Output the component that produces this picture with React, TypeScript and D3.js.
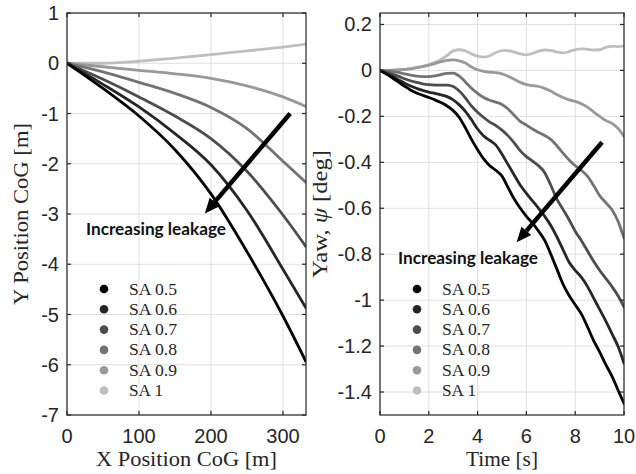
import React from "react";
import * as d3 from "d3";

// ---------- data ----------
const SERIES_NAMES = ["SA 0.5", "SA 0.6", "SA 0.7", "SA 0.8", "SA 0.9", "SA 1"];
const SERIES_COLORS = ["#000000", "#262626", "#4d4d4d", "#737373", "#999999", "#bfbfbf"];

// Left panel: Y position vs X position of CoG
const POS_X = [0, 50, 100, 150, 200, 250, 300, 332];
const POS_Y_SA05 = [0, -0.5, -1.05, -1.72, -2.6, -3.75, -5.03, -5.94];
const POS_Y_SA06 = [0, -0.42, -0.87, -1.4, -2.02, -2.93, -4.1, -4.87];
const POS_Y_SA07 = [0, -0.32, -0.67, -1.05, -1.5, -2.15, -3.02, -3.65];
const POS_Y_SA08 = [0, -0.17, -0.38, -0.6, -0.88, -1.3, -1.95, -2.37];
const POS_Y_SA09 = [0, -0.07, -0.14, -0.21, -0.3, -0.45, -0.67, -0.86];
const POS_Y_SA10 = [0, 0.0, 0.04, 0.1, 0.17, 0.245, 0.32, 0.38];

// Right panel: yaw angle vs time
const TIME = [
  0, 0.25, 0.5, 0.75, 1, 1.25, 1.5, 1.75, 2, 2.25, 2.5, 2.75, 3, 3.25, 3.5, 3.75, 4, 4.25, 4.5, 4.75,
  5, 5.25, 5.5, 5.75, 6, 6.25, 6.5, 6.75, 7, 7.25, 7.5, 7.75, 8, 8.25, 8.5, 8.75, 9, 9.25, 9.5, 9.75, 10,
];
const YAW_SA05 = [
  0, -0.015, -0.032, -0.05, -0.068, -0.085, -0.098, -0.108, -0.118, -0.128, -0.14, -0.155, -0.175, -0.205,
  -0.25, -0.3, -0.345, -0.385, -0.415, -0.435, -0.46, -0.51, -0.56, -0.6, -0.635, -0.665, -0.7, -0.74, -0.8,
  -0.865, -0.93, -0.98, -1.02, -1.06, -1.115, -1.175, -1.225, -1.28, -1.33, -1.39, -1.45,
];
const YAW_SA06 = [
  0, -0.012, -0.025, -0.04, -0.055, -0.068, -0.078, -0.087, -0.094, -0.1, -0.106, -0.114, -0.128, -0.15,
  -0.178, -0.215, -0.255, -0.285, -0.305, -0.325, -0.365, -0.41, -0.455, -0.5, -0.535, -0.568, -0.6, -0.635,
  -0.675, -0.725, -0.78, -0.835, -0.87, -0.9, -0.94, -0.99, -1.04, -1.09, -1.145, -1.2, -1.275,
];
const YAW_SA07 = [
  0, -0.008, -0.016, -0.025, -0.036, -0.045, -0.052, -0.058, -0.062, -0.064, -0.064, -0.064, -0.07, -0.09,
  -0.12, -0.155, -0.182, -0.205, -0.225, -0.24, -0.26, -0.285, -0.315, -0.35, -0.375, -0.395, -0.415, -0.445,
  -0.5, -0.56, -0.605, -0.65, -0.7, -0.74, -0.785, -0.83, -0.87, -0.905, -0.94, -0.98, -1.03,
];
const YAW_SA08 = [
  0, -0.002, -0.005, -0.009, -0.015, -0.02, -0.025, -0.027, -0.027, -0.024, -0.018, -0.013, -0.012, -0.025,
  -0.05, -0.078, -0.1, -0.118, -0.13, -0.138, -0.148, -0.168, -0.195, -0.222, -0.238, -0.255, -0.27, -0.283,
  -0.3, -0.328, -0.36, -0.39, -0.415, -0.435, -0.46, -0.5, -0.545, -0.575, -0.605, -0.655, -0.73,
];
const YAW_SA09 = [
  0, 0, 0.001, 0.002, 0.004, 0.007, 0.012, 0.017, 0.023, 0.03, 0.038, 0.044, 0.046, 0.042, 0.032, 0.015,
  0.003, -0.004, -0.008, -0.01, -0.015, -0.025, -0.038, -0.052, -0.062, -0.066, -0.07, -0.078, -0.09, -0.105,
  -0.118, -0.128, -0.135, -0.145, -0.16, -0.18, -0.2, -0.218, -0.23, -0.252, -0.287,
];
const YAW_SA10 = [
  0, 0, 0.001, 0.003, 0.005, 0.008, 0.013, 0.018, 0.025, 0.035, 0.048, 0.065, 0.085, 0.09, 0.085, 0.072,
  0.062, 0.058, 0.064, 0.078, 0.086, 0.086, 0.08, 0.072, 0.068, 0.074, 0.084, 0.089, 0.087, 0.08, 0.076,
  0.082, 0.091, 0.094, 0.092, 0.089, 0.09, 0.1, 0.105, 0.104, 0.107,
];

const LEFT_X_TICKS = [0, 100, 200, 300];
const LEFT_X_TICK_LABELS = ["0", "100", "200", "300"];
const LEFT_Y_TICKS = [1, 0, -1, -2, -3, -4, -5, -6, -7];
const LEFT_Y_TICK_LABELS = ["1", "0", "-1", "-2", "-3", "-4", "-5", "-6", "-7"];
const RIGHT_X_TICKS = [0, 2, 4, 6, 8, 10];
const RIGHT_X_TICK_LABELS = ["0", "2", "4", "6", "8", "10"];
const RIGHT_Y_TICKS = [0.2, 0, -0.2, -0.4, -0.6, -0.8, -1, -1.2, -1.4];
const RIGHT_Y_TICK_LABELS = ["0.2", "0", "-0.2", "-0.4", "-0.6", "-0.8", "-1", "-1.2", "-1.4"];

const ANNOTATION = "Increasing leakage";

// ---------- styling ----------
const W = 636;
const H = 474;
const TICK_FONT = "'Liberation Sans', Arial, Helvetica, sans-serif";
const LABEL_FONT = "'Liberation Serif', 'Times New Roman', serif";
const ANNOT_FONT = "Lato, 'Open Sans', 'Noto Sans', sans-serif";
const AXIS_COLOR = "#262626";
const GRID_COLOR = "#e0e0e0";

type PanelProps = {
  id: string;
  left: number;
  right: number;
  top: number;
  bottom: number;
  xDomain: [number, number];
  yDomain: [number, number];
  xs: number[];
  ys: number[][];
  xTicks: number[];
  xTickLabels: string[];
  yTicks: number[];
  yTickLabels: string[];
  xLabel: React.ReactNode;
  xLabelLen: number;
  yLabel: React.ReactNode;
  yLabelLen: number;
  yLabelX: number;
  arrowFrom: [number, number];
  arrowTo: [number, number];
  annotAt: [number, number];
  annotLen: number;
};

function Panel(p: PanelProps) {
  const x = d3.scaleLinear().domain(p.xDomain).range([p.left, p.right]);
  const y = d3.scaleLinear().domain(p.yDomain).range([p.bottom, p.top]);
  const line = d3
    .line<[number, number]>()
    .x((d) => x(d[0]))
    .y((d) => y(d[1]))
    .curve(d3.curveMonotoneX);
  const tick = 4;

  // arrow geometry
  const ax0 = x(p.arrowFrom[0]);
  const ay0 = y(p.arrowFrom[1]);
  const ax1 = x(p.arrowTo[0]);
  const ay1 = y(p.arrowTo[1]);
  const ang = Math.atan2(ay1 - ay0, ax1 - ax0);
  const headLen = 15;
  const headHalf = 6.5;
  const bx = ax1 - headLen * Math.cos(ang);
  const by = ay1 - headLen * Math.sin(ang);
  const px = -Math.sin(ang);
  const py = Math.cos(ang);
  const head = `${ax1},${ay1} ${bx + headHalf * px},${by + headHalf * py} ${bx - headHalf * px},${by - headHalf * py}`;

  const legX = p.left + 37;
  const legY0 = p.top + 276;
  const legDy = 20.3;
  const midX = (p.left + p.right) / 2;
  const midY = (p.top + p.bottom) / 2;

  // draw lightest first so darkest on top
  const order = [5, 4, 3, 2, 1, 0];

  return (
    <g>
      <defs>
        <clipPath id={`clip-${p.id}`}>
          <rect x={p.left} y={p.top} width={p.right - p.left} height={p.bottom - p.top} />
        </clipPath>
      </defs>
      <rect x={p.left} y={p.top} width={p.right - p.left} height={p.bottom - p.top} fill="#fff" />
      {/* grid */}
      {p.xTicks.map((t) => (
        <line key={`gx${t}`} x1={x(t)} x2={x(t)} y1={p.top} y2={p.bottom} stroke={GRID_COLOR} strokeWidth={1} />
      ))}
      {p.yTicks.map((t) => (
        <line key={`gy${t}`} x1={p.left} x2={p.right} y1={y(t)} y2={y(t)} stroke={GRID_COLOR} strokeWidth={1} />
      ))}
      {/* series */}
      <g clipPath={`url(#clip-${p.id})`}>
        {order.map((i) => (
          <path
            key={`s${i}`}
            d={line(p.xs.map((xv, k) => [xv, p.ys[i][k]] as [number, number])) || ""}
            fill="none"
            stroke={SERIES_COLORS[i]}
            strokeWidth={2.8}
            strokeLinejoin="round"
            strokeLinecap="round"
          />
        ))}
      </g>
      {/* box */}
      <rect
        x={p.left}
        y={p.top}
        width={p.right - p.left}
        height={p.bottom - p.top}
        fill="none"
        stroke={AXIS_COLOR}
        strokeWidth={1.2}
      />
      {/* ticks */}
      {p.xTicks.map((t) => (
        <g key={`tx${t}`}>
          <line x1={x(t)} x2={x(t)} y1={p.bottom} y2={p.bottom - tick} stroke={AXIS_COLOR} strokeWidth={1.2} />
          <line x1={x(t)} x2={x(t)} y1={p.top} y2={p.top + tick} stroke={AXIS_COLOR} strokeWidth={1.2} />
        </g>
      ))}
      {p.yTicks.map((t) => (
        <g key={`ty${t}`}>
          <line x1={p.left} x2={p.left + tick} y1={y(t)} y2={y(t)} stroke={AXIS_COLOR} strokeWidth={1.2} />
          <line x1={p.right} x2={p.right - tick} y1={y(t)} y2={y(t)} stroke={AXIS_COLOR} strokeWidth={1.2} />
        </g>
      ))}
      {/* tick labels */}
      {p.xTicks.map((t, i) => (
        <text
          key={`lx${t}`}
          x={x(t)}
          y={p.bottom + 28}
          textAnchor="middle"
          fontFamily={TICK_FONT}
          fontSize={20}
          fill={AXIS_COLOR}
        >
          {p.xTickLabels[i]}
        </text>
      ))}
      {p.yTicks.map((t, i) => (
        <text
          key={`ly${t}`}
          x={p.left - 8}
          y={y(t) + 7}
          textAnchor="end"
          fontFamily={TICK_FONT}
          fontSize={20}
          fill={AXIS_COLOR}
        >
          {p.yTickLabels[i]}
        </text>
      ))}
      {/* axis labels */}
      <text
        x={midX}
        y={466}
        textAnchor="middle"
        fontFamily={LABEL_FONT}
        fontSize={20}
        fill={AXIS_COLOR}
        textLength={p.xLabelLen}
        lengthAdjust="spacingAndGlyphs"
      >
        {p.xLabel}
      </text>
      <text
        transform={`translate(${p.yLabelX},${midY}) rotate(-90)`}
        textAnchor="middle"
        fontFamily={LABEL_FONT}
        fontSize={20}
        fill={AXIS_COLOR}
        textLength={p.yLabelLen}
        lengthAdjust="spacingAndGlyphs"
      >
        {p.yLabel}
      </text>
      {/* legend */}
      {SERIES_NAMES.map((name, i) => (
        <g key={`lg${i}`}>
          <circle cx={legX} cy={legY0 + i * legDy} r={4.3} fill={SERIES_COLORS[i]} />
          <text
            x={legX + 25}
            y={legY0 + i * legDy + 5.5}
            fontFamily={LABEL_FONT}
            fontSize={17}
            fill={AXIS_COLOR}
            textLength={name.length === 6 ? 48 : 34}
            lengthAdjust="spacingAndGlyphs"
          >
            {name}
          </text>
        </g>
      ))}
      {/* annotation arrow */}
      <line x1={ax0} y1={ay0} x2={bx} y2={by} stroke="#000" strokeWidth={4.5} />
      <polygon points={head} fill="#000" />
      <text
        x={x(p.annotAt[0])}
        y={y(p.annotAt[1])}
        fontFamily={ANNOT_FONT}
        fontWeight="bold"
        fontSize={17}
        fill="#111"
        textLength={p.annotLen}
        lengthAdjust="spacingAndGlyphs"
      >
        {ANNOTATION}
      </text>
    </g>
  );
}

export default function App() {
  const leftYs = [POS_Y_SA05, POS_Y_SA06, POS_Y_SA07, POS_Y_SA08, POS_Y_SA09, POS_Y_SA10];
  const rightYs = [YAW_SA05, YAW_SA06, YAW_SA07, YAW_SA08, YAW_SA09, YAW_SA10];
  return (
    <svg
      width={W}
      height={H}
      viewBox={`0 0 ${W} ${H}`}
      style={{ position: "absolute", left: 0, top: 0, background: "#fff" }}
    >
      <rect x={0} y={0} width={W} height={H} fill="#fff" />
      <Panel
        id="pos"
        left={67}
        right={306}
        top={13}
        bottom={415}
        xDomain={[0, 332]}
        yDomain={[-7, 1]}
        xs={POS_X}
        ys={leftYs}
        xTicks={LEFT_X_TICKS}
        xTickLabels={LEFT_X_TICK_LABELS}
        yTicks={LEFT_Y_TICKS}
        yTickLabels={LEFT_Y_TICK_LABELS}
        xLabel="X Position CoG [m]"
        xLabelLen={181}
        yLabel="Y Position CoG [m]"
        yLabelLen={182}
        yLabelX={28}
        arrowFrom={[310, -1.0]}
        arrowTo={[191.5, -2.99]}
        annotAt={[26.4, -3.42]}
        annotLen={140}
      />
      <Panel
        id="yaw"
        left={380}
        right={624}
        top={13}
        bottom={415}
        xDomain={[0, 10]}
        yDomain={[-1.5, 0.25]}
        xs={TIME}
        ys={rightYs}
        xTicks={RIGHT_X_TICKS}
        xTickLabels={RIGHT_X_TICK_LABELS}
        yTicks={RIGHT_Y_TICKS}
        yTickLabels={RIGHT_Y_TICK_LABELS}
        xLabel="Time [s]"
        xLabelLen={72}
        yLabel={
          <>
            Yaw, <tspan fontStyle="italic">ψ</tspan> [deg]
          </>
        }
        yLabelLen={128}
        yLabelX={327}
        arrowFrom={[9.1, -0.313]}
        arrowTo={[5.6, -0.748]}
        annotAt={[0.74, -0.843]}
        annotLen={140}
      />
    </svg>
  );
}
